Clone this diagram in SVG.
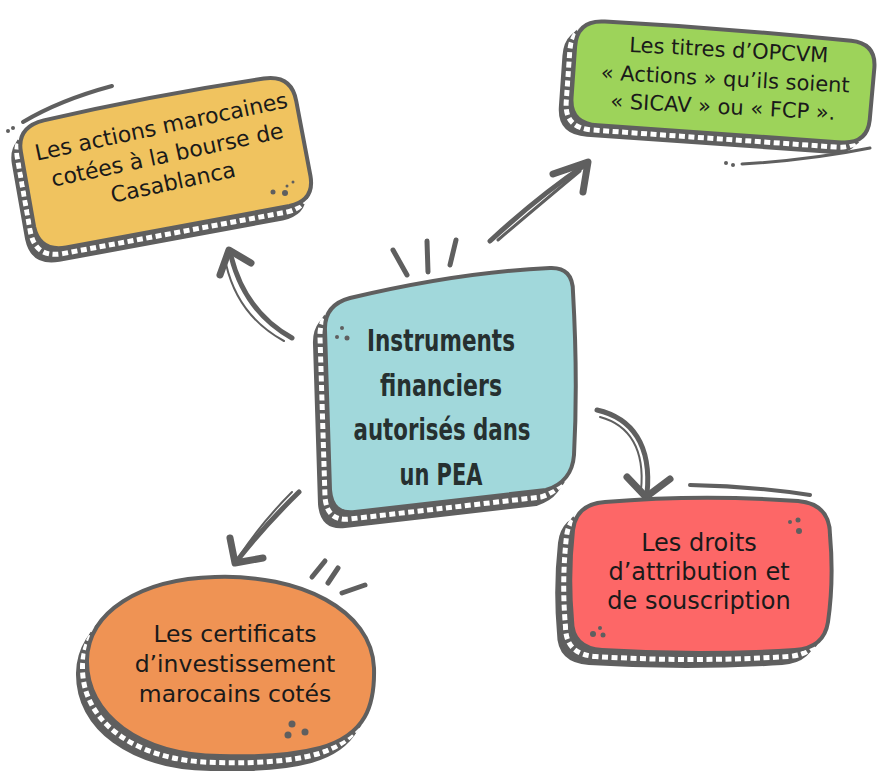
<svg xmlns="http://www.w3.org/2000/svg" width="884" height="771" viewBox="0 0 884 771">
<defs>
<style>
.bk{fill:#5f5f5f;stroke:#5f5f5f;stroke-width:4;stroke-linejoin:round}
.ds{fill:none;stroke:#fff;stroke-width:5;stroke-dasharray:6 3.5}
.fr{stroke:#5f5f5f;stroke-width:4;stroke-linejoin:round}
.ln{fill:none;stroke:#5f5f5f;stroke-width:5;stroke-linecap:round;stroke-linejoin:round}
.hd{fill:none;stroke:#5f5f5f;stroke-width:7;stroke-linecap:round;stroke-linejoin:round}
.dot{fill:#5f5f5f}
.t{font-family:"DejaVu Sans","Noto Sans",sans-serif;fill:#1a1a1a;text-anchor:middle}
.ttl{font-family:"DejaVu Sans Condensed","DejaVu Sans",sans-serif;font-weight:bold;fill:#263030;text-anchor:middle;font-size:31px}
</style>
<path id="sy" d="M -112,-63 Q 0,-69 112,-66 Q 140,-65 140,-38 L 141,38 Q 141,63 115,64 L -112,66 Q -139,66 -140,40 L -140,-36 Q -140,-61 -112,-63 Z"/>
<path id="sg" d="M -122,-52 Q 0,-54 125,-50 Q 150,-49 150,-25 L 149,28 Q 148,52 122,52 L -122,52 Q -150,52 -150,26 L -150,-25 Q -150,-52 -122,-52 Z"/>
<path id="st" d="M 350,298 Q 460,272 550,268 Q 573,267 573,292 Q 578,380 574,455 Q 572,482 546,490 L 355,512 Q 332,515 330,490 L 325,330 Q 324,305 350,298 Z"/>
<path id="sr" d="M 605,502 Q 700,494 798,501 Q 830,504 830,535 Q 834,580 828,622 Q 824,648 795,650 Q 700,656 602,650 Q 572,648 572,620 Q 568,575 573,530 Q 576,504 605,502 Z"/>
<path id="so" d="M 215,577 C 300,574 372,610 374,668 C 375,705 366,735 320,748 C 290,756 250,757 220,756 C 140,755 86,715 87,660 C 88,612 140,579 215,577 Z"/>
</defs>

<g id="connectors">
<path class="ln" d="M 292,338 Q 245,312 231,256"/>
<path class="ln" style="stroke-width:2" d="M 284,341 Q 238,316 226,264"/>
<path class="hd" d="M 220,275 L 229,250 L 251,263"/>
<path class="ln" d="M 490,241 Q 540,195 585,165"/>
<path class="ln" style="stroke-width:3" d="M 498,240 Q 545,200 580,171"/>
<path class="hd" d="M 553,174 L 588,162 L 583,192"/>
<path class="ln" d="M 597,410 C 632,418 652,445 647,494"/>
<path class="ln" style="stroke-width:2" d="M 600,417 C 630,425 645,450 641,490"/>
<path class="hd" d="M 627,477 L 646,497 L 670,479"/>
<path class="ln" d="M 299,492 Q 265,525 236,562"/>
<path class="ln" style="stroke-width:2" d="M 292,492 Q 262,522 240,555"/>
<path class="hd" d="M 230,538 L 235,563 L 263,558"/>
</g>

<g id="decor">
<path class="ln" d="M393,250 L407,275 M427,241 L428,272 M456,240 L450,265"/>
<path class="ln" d="M325,561 L312,577 M338,568 L328,583 M365,585 L342,593"/>
<path class="ln" style="stroke-width:4" d="M112,86 Q 60,100 23,122"/>
<circle class="dot" cx="8" cy="131" r="2"/><circle class="dot" cx="13" cy="128" r="2"/>
<path class="ln" style="stroke-width:3" d="M742,164 Q 810,160 870,148"/>
<circle class="dot" cx="726" cy="163" r="2"/><circle class="dot" cx="733" cy="165" r="2"/>
<path class="ln" style="stroke-width:4" d="M690,485 Q 750,486 810,495"/>
</g>

<g id="node-yellow">
<g transform="translate(165,163) rotate(-10)">
<use href="#sy" class="bk" transform="translate(-9,11)"/>
<use href="#sy" class="bk" transform="translate(-4.5,5.5)"/>
<use href="#sy" class="ds" transform="translate(-4.5,5.5)"/>
<use href="#sy" class="fr" fill="#f0c35f"/>
</g>
<g transform="translate(170,163) rotate(-12)" class="t" font-size="22">
<text x="-1" y="-30">Les actions marocaines</text>
<text x="-1" y="-1">cotées à la bourse de</text>
<text x="-1" y="27">Casablanca</text>
</g>
<circle class="dot" cx="273" cy="192" r="2.5"/><circle class="dot" cx="285" cy="193" r="3"/><circle class="dot" cx="287" cy="186" r="1.5"/><circle class="dot" cx="293" cy="182" r="1.5"/>
</g>

<g id="node-green">
<g transform="translate(723,82) rotate(4)">
<use href="#sg" class="bk" transform="translate(-10,10)"/>
<use href="#sg" class="bk" transform="translate(-5,5)"/>
<use href="#sg" class="ds" transform="translate(-5,5)"/>
<use href="#sg" class="fr" fill="#9dd35a"/>
</g>
<g transform="translate(725,85) rotate(3)" class="t" font-size="21">
<text x="2" y="-28">Les titres d’OPCVM</text>
<text x="0" y="1">« Actions » qu’ils soient</text>
<text x="-1" y="29">« SICAV » ou « FCP ».</text>
</g>
</g>

<g id="node-center">
<use href="#st" class="bk" transform="translate(-10,14)"/>
<use href="#st" class="bk" transform="translate(-5,7)"/>
<use href="#st" class="ds" transform="translate(-5,7)"/>
<use href="#st" class="fr" fill="#a1d8db"/>
<text class="ttl" x="441" y="351" textLength="148" lengthAdjust="spacingAndGlyphs">Instruments</text>
<text class="ttl" x="441" y="396" textLength="122" lengthAdjust="spacingAndGlyphs">financiers</text>
<text class="ttl" x="442" y="440" textLength="177" lengthAdjust="spacingAndGlyphs">autorisés dans</text>
<text class="ttl" x="441" y="485" textLength="83" lengthAdjust="spacingAndGlyphs">un PEA</text>
<circle class="dot" cx="342" cy="328" r="2"/><circle class="dot" cx="337" cy="337" r="2"/><circle class="dot" cx="347" cy="338" r="2.5"/>
</g>

<g id="node-red">
<use href="#sr" class="bk" transform="translate(-13,13)"/>
<use href="#sr" class="bk" transform="translate(-6.5,6.5)"/>
<use href="#sr" class="ds" transform="translate(-6.5,6.5)"/>
<use href="#sr" class="fr" fill="#fd6767"/>
<g class="t" font-size="24">
<text x="699" y="551">Les droits</text>
<text x="699" y="580">d’attribution et</text>
<text x="699" y="609">de souscription</text>
</g>
<circle class="dot" cx="790" cy="522" r="2"/><circle class="dot" cx="798" cy="520" r="2.5"/><circle class="dot" cx="799" cy="531" r="3"/>
<circle class="dot" cx="593" cy="634" r="3"/><circle class="dot" cx="600" cy="628" r="2"/><circle class="dot" cx="603" cy="635" r="2.5"/>
</g>

<g id="node-orange">
<use href="#so" class="bk" transform="translate(-9,13)"/>
<use href="#so" class="bk" transform="translate(-4.5,6.5)"/>
<use href="#so" class="ds" transform="translate(-4.5,6.5)"/>
<use href="#so" class="fr" fill="#ef9354"/>
<g class="t" font-size="23.5">
<text x="235" y="642">Les certificats</text>
<text x="235" y="672">d’investissement</text>
<text x="235" y="702">marocains cotés</text>
</g>
<circle class="dot" cx="292" cy="724" r="3.5"/><circle class="dot" cx="288" cy="735" r="3.5"/><circle class="dot" cx="305" cy="732" r="3.5"/>
</g>
</svg>
